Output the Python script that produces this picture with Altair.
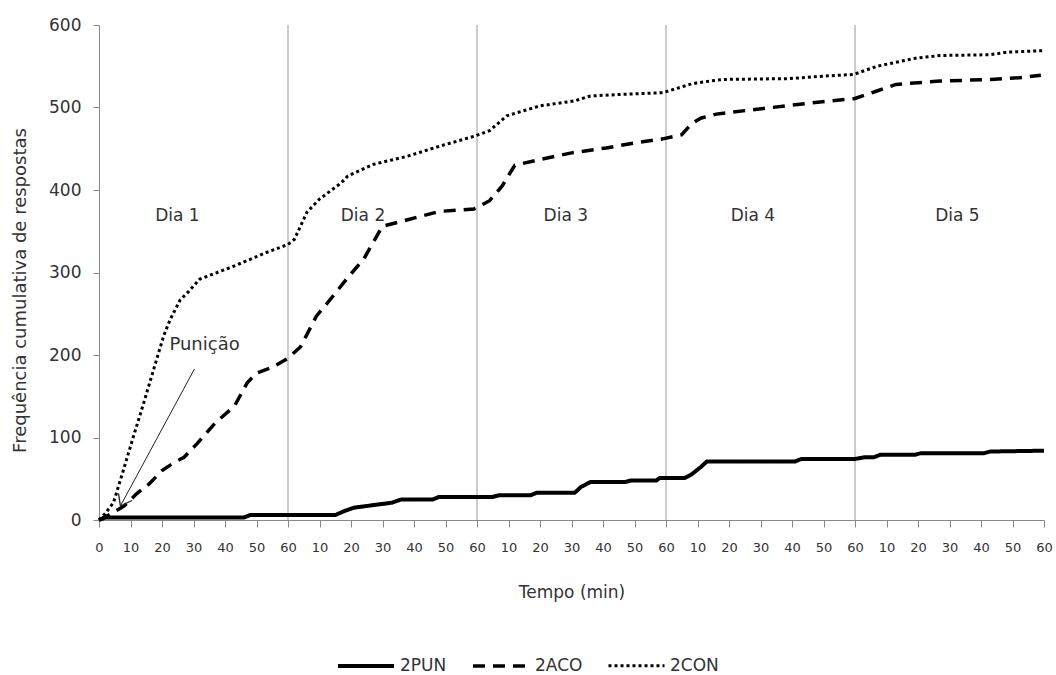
import altair as alt
import pandas as pd

series = ["2PUN", "2ACO", "2CON"]

pun_t = [0, 2, 46, 48, 75, 78, 81, 85, 89, 93, 96, 106, 108, 125, 127, 137, 139, 151, 153, 156, 167, 169, 177, 178, 186, 188, 191, 193, 221, 223, 240, 243, 246, 248, 259, 261, 281, 283, 300]
pun_v = [0, 3, 3, 6, 6, 11, 15, 17, 19, 21, 25, 25, 28, 28, 30, 30, 33, 33, 40, 46, 46, 48, 48, 51, 51, 55, 64, 71, 71, 74, 74, 76, 76, 79, 79, 81, 81, 83, 84]

aco_t = [0, 4, 8, 12, 16, 20, 24, 27, 31, 37, 43, 47, 50, 55, 60, 64, 69, 74, 79, 84, 88, 90, 98, 108, 119, 124, 128, 132, 140, 150, 161, 170, 179, 185, 188, 191, 196, 209, 225, 240, 247, 253, 267, 283, 292, 299]
aco_v = [0, 8, 17, 32, 44, 60, 70, 76, 92, 118, 138, 166, 178, 185, 196, 210, 247, 270, 294, 316, 343, 356, 364, 374, 377, 387, 405, 430, 437, 445, 451, 457, 462, 467, 480, 487, 492, 498, 505, 511, 520, 528, 532, 534, 536, 539]

con_t = [0, 2, 4.6, 7.8, 11, 14.2, 17.3, 20.5, 22.6, 25.8, 28, 32, 43, 53, 60, 62, 66, 70, 77, 79, 87, 98, 108, 119, 124, 129.5, 140, 151, 156, 166.5, 179, 187.6, 190, 198, 219, 230, 239.5, 247, 259.6, 267, 283, 288, 300]
con_v = [0, 8, 21, 61, 102, 142, 182, 223, 243, 267, 275, 292, 308, 324, 334, 340, 373, 389, 409, 417, 431, 441, 453, 465, 472, 490, 502, 508, 514, 516, 518, 528, 530, 534, 535, 538, 540, 550, 560, 563, 564, 567, 569]

day_bounds = [60, 120, 180, 240]
day_labels = ["Dia 1", "Dia 2", "Dia 3", "Dia 4", "Dia 5"]
day_label_t = [24.9, 83.8, 148.2, 207.6, 272.5]
day_label_v = [369, 369, 369, 369, 369]

annot_text = ["Punição"]
annot_t = [33.5]
annot_v = [212]
arrow_tail_t = [30.3]
arrow_tail_v = [183]
arrow_tip_t = [6.8]
arrow_tip_v = [17]

rows = []
for name, ts, vs in [("2PUN", pun_t, pun_v), ("2ACO", aco_t, aco_v), ("2CON", con_t, con_v)]:
    for t, v in zip(ts, vs):
        rows.append({"serie": name, "t": t, "v": v})
df = pd.DataFrame(rows)

FONT = "DejaVu Sans"
TXT = "#333333"

x_enc = alt.X(
    "t:Q",
    scale=alt.Scale(domain=[0, 300], nice=False, zero=False),
    axis=alt.Axis(
        values=list(range(0, 301, 10)),
        labelExpr="datum.value == 0 ? '0' : (datum.value % 60 == 0 ? '60' : '' + (datum.value % 60))",
        title="Tempo (min)",
        grid=False,
        domainColor="#888888",
        tickColor="#888888",
        tickSize=7,
        labelPadding=14,
        labelFont=FONT,
        labelFontSize=13,
        labelColor=TXT,
        labelFlush=False,
        labelOverlap=False,
        titleFont=FONT,
        titleFontSize=17,
        titleFontWeight="normal",
        titleColor=TXT,
        titleY=72,
        titleBaseline="middle",
    ),
)
y_enc = alt.Y(
    "v:Q",
    scale=alt.Scale(domain=[0, 600], nice=False),
    axis=alt.Axis(
        values=[0, 100, 200, 300, 400, 500, 600],
        title="Frequência cumulativa de respostas",
        grid=False,
        domainColor="#888888",
        tickColor="#888888",
        tickSize=6,
        labelPadding=12,
        labelFont=FONT,
        labelFontSize=17,
        labelColor=TXT,
        titleFont=FONT,
        titleFontSize=18,
        titleFontWeight="normal",
        titleColor=TXT,
        titleX=-79,
        titleY=265,
        titleAngle=270,
        titleAlign="center",
        titleBaseline="middle",
    ),
)

rules_df = pd.DataFrame({"t": day_bounds, "v": [0] * len(day_bounds), "v2": [600] * len(day_bounds)})
rules = alt.Chart(rules_df).mark_rule(color="#999999", strokeWidth=1).encode(
    x=x_enc, y=y_enc, y2="v2:Q"
)

lines = alt.Chart(df).mark_line(color="black", strokeCap="butt").encode(
    x=x_enc,
    y=y_enc,
    strokeDash=alt.StrokeDash(
        "serie:N",
        scale=alt.Scale(domain=series, range=[[1, 0], [12, 8], [3, 3]]),
        legend=alt.Legend(
            title=None,
            orient="none",
            legendX=237,
            legendY=611,
            direction="horizontal",
            symbolType="stroke",
            symbolSize=3136,
            symbolStrokeWidth=3,
            symbolStrokeColor="black",
            labelFont=FONT,
            labelFontSize=17,
            labelColor=TXT,
            labelOffset=4,
            columnPadding=19,
            labelLimit=200,
        ),
    ),
    strokeWidth=alt.StrokeWidth(
        "serie:N", scale=alt.Scale(domain=series, range=[4, 3, 3]), legend=None
    ),
    detail="serie:N",
)

days_df = pd.DataFrame({"t": day_label_t, "v": day_label_v, "label": day_labels})
days = alt.Chart(days_df).mark_text(font=FONT, fontSize=17, color=TXT).encode(
    x=x_enc, y=y_enc, text="label:N"
)

annot_df = pd.DataFrame({"t": annot_t, "v": annot_v, "label": annot_text})
annot = alt.Chart(annot_df).mark_text(font=FONT, fontSize=18, color=TXT).encode(
    x=x_enc, y=y_enc, text="label:N"
)

arrow_df = pd.DataFrame({"t": arrow_tail_t, "v": arrow_tail_v, "t2": arrow_tip_t, "v2": arrow_tip_v})
arrow = alt.Chart(arrow_df).mark_rule(color="#222222", strokeWidth=1).encode(
    x=x_enc, y=y_enc, x2="t2:Q", y2="v2:Q"
)

head_df = pd.DataFrame({"t": arrow_tip_t, "v": arrow_tip_v})
head = alt.Chart(head_df).mark_point(
    shape="M -0.75 1 L 0 0 L 0.75 1",
    filled=False,
    stroke="#222222",
    strokeWidth=1.3,
    size=420,
    angle=208,
    opacity=1,
).encode(x=x_enc, y=y_enc)

chart = (
    alt.layer(rules, lines, days, annot, arrow, head)
    .properties(
        width=945,
        height=495,
        autosize=alt.AutoSizeParams(type="none"),
        padding={"left": 99, "top": 25, "right": 12, "bottom": 155},
        background="white",
    )
    .configure_view(stroke=None)
)

chart.save("out.html", embed_options={"renderer": "svg", "actions": False})
